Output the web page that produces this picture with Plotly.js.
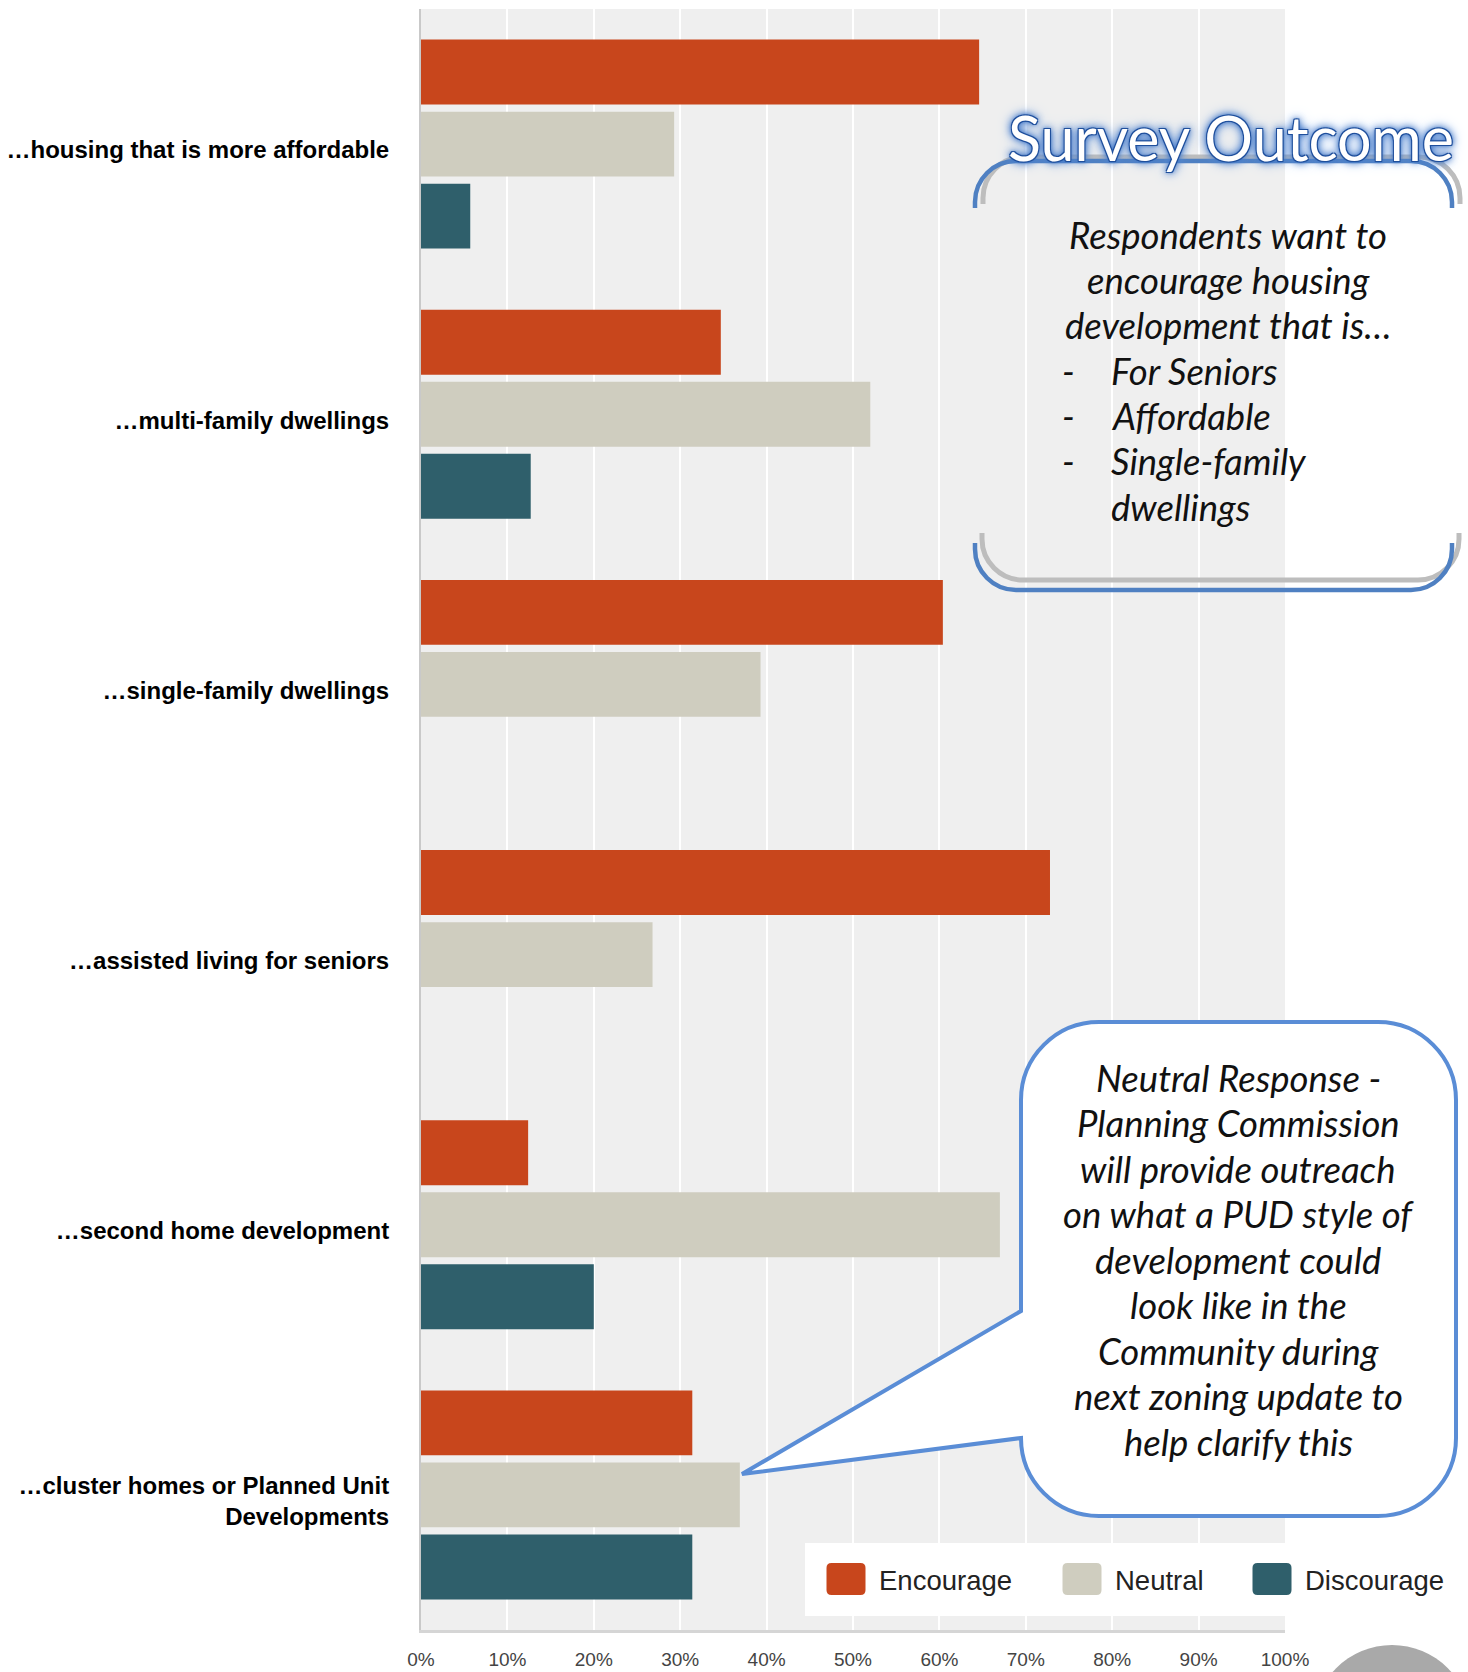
<!DOCTYPE html>
<html>
<head>
<meta charset="utf-8">
<script src="https://cdn.plot.ly/plotly-3.0.1.min.js"></script>
<style>
html,body{margin:0;padding:0;background:#ffffff;}
#chart{width:1468px;height:1672px;}
</style>
</head>
<body>
<div id="chart"></div>
<script>
// ---------------- data ----------------
const categories = [
  "…housing that is more affordable",
  "…multi-family dwellings",
  "…single-family dwellings",
  "…assisted living for seniors",
  "…second home development",
  "…cluster homes or Planned Unit<br>Developments"
];
const seriesNames = ["Encourage", "Neutral", "Discourage"];
const encourage  = [0.646, 0.347, 0.604, 0.728, 0.124, 0.314];
const neutral    = [0.293, 0.520, 0.393, 0.268, 0.670, 0.369];
const discourage = [0.057, 0.127, 0.000, 0.000, 0.200, 0.314];
const xTickVals = [0, 0.1, 0.2, 0.3, 0.4, 0.5, 0.6, 0.7, 0.8, 0.9, 1.0];
const xTickText = ["0%", "10%", "20%", "30%", "40%", "50%", "60%", "70%", "80%", "90%", "100%"];

const outcomeTitle = "Survey Outcome";
const outcomeIntro = ["Respondents want to", "encourage housing", "development that is…"];
const outcomeBullets = ["For Seniors", "Affordable", "Single-family", "dwellings"];
const neutralNote = [
  "Neutral Response -",
  "Planning Commission",
  "will provide outreach",
  "on what a PUD style of",
  "development could",
  "look like in the",
  "Community during",
  "next zoning update to",
  "help clarify this"
];

// ---------------- geometry helpers ----------------
const W = 1468, H = 1672;
const M = {l: 421, r: 183, t: 9, b: 42};
const PW = W - M.l - M.r, PH = H - M.t - M.b;
const px = x => (x - M.l) / PW;
const py = y => (H - M.b - y) / PH;
function path(cmds) {
  return cmds.map(c => {
    if (c[0] === 'Z') return 'Z';
    const pts = [];
    for (let i = 1; i < c.length; i += 2) pts.push(px(c[i]).toFixed(5) + ',' + py(c[i + 1]).toFixed(5));
    return c[0] + pts.join(' ');
  }).join(' ');
}

const colors = ["#c8461c", "#cfcdbf", "#2f5f6b"];
const blueLine = "#4f80c2";
const calloutBlue = "#5a8dd6";

// ---------------- traces ----------------
const values = [encourage, neutral, discourage];
const legendIds = ["legend", "legend2", "legend3"];
const traces = seriesNames.map((name, i) => ({
  type: "bar",
  orientation: "h",
  name: name,
  y: categories,
  x: values[i],
  marker: {color: colors[i], line: {width: 0}},
  legend: legendIds[i],
  hoverinfo: "skip"
}));

// ---------------- shapes ----------------
const k = 0.5523;
const shapes = [];
shapes.push({type: "rect", xref: "paper", yref: "paper", x0: px(805), x1: px(1468), y0: py(1616), y1: py(1543),
  fillcolor: "#ffffff", line: {width: 0}, layer: "above"});
shapes.push({type: "circle", xref: "paper", yref: "paper", x0: px(1313), x1: px(1471), y0: py(1803), y1: py(1645),
  fillcolor: "#a9a9a9", line: {width: 0}, layer: "above"});

function topBracket(dx, dy) {
  const L = 975 + dx, R = 1452 + dx, T = 161 + dy, r = 41, e = 208 + dy;
  return path([
    ['M', L, e], ['L', L, T + r],
    ['C', L, T + r - k * r, L + r - k * r, T, L + r, T],
    ['L', R - r, T],
    ['C', R - r + k * r, T, R, T + r - k * r, R, T + r],
    ['L', R, e]
  ]);
}
function bottomBracket(dx, dy) {
  const L = 975 + dx, R = 1452 + dx, B = 590 + dy, r = 41, s = 543 + dy;
  return path([
    ['M', L, s], ['L', L, B - r],
    ['C', L, B - r + k * r, L + r - k * r, B, L + r, B],
    ['L', R - r, B],
    ['C', R - r + k * r, B, R, B - r + k * r, R, B - r],
    ['L', R, s]
  ]);
}
shapes.push({type: "path", xref: "paper", yref: "paper", path: topBracket(8, -4), line: {color: "#bdbdbd", width: 5}, layer: "above"});
shapes.push({type: "path", xref: "paper", yref: "paper", path: bottomBracket(7, -10), line: {color: "#bdbdbd", width: 5}, layer: "above"});
shapes.push({type: "path", xref: "paper", yref: "paper", path: topBracket(0, 0), line: {color: blueLine, width: 4.5}, layer: "above"});
shapes.push({type: "path", xref: "paper", yref: "paper", path: bottomBracket(0, 0), line: {color: blueLine, width: 4.5}, layer: "above"});

(function () {
  const L = 1021, R = 1456, T = 1022, B = 1516, r = 78;
  const p = path([
    ['M', L, T + r],
    ['C', L, T + r - k * r, L + r - k * r, T, L + r, T],
    ['L', R - r, T],
    ['C', R - r + k * r, T, R, T + r - k * r, R, T + r],
    ['L', R, B - r],
    ['C', R, B - r + k * r, R - r + k * r, B, R - r, B],
    ['L', L + r, B],
    ['C', L + r - k * r, B, L, B - r + k * r, L, B - r],
    ['L', 742, 1474],
    ['L', L, 1311],
    ['Z']
  ]);
  shapes.push({type: "path", xref: "paper", yref: "paper", path: p, fillcolor: "#ffffff",
    line: {color: calloutBlue, width: 4}, layer: "above"});
})();

// ---------------- annotations ----------------
const noteFont = {family: "Lato, Carlito, Calibri, sans-serif", size: 36.5, color: "#111111", style: "italic"};
const ann = [];
function addText(text, x, yBase, anchor, font) {
  ann.push({xref: "paper", yref: "paper", x: px(x), y: py(yBase - 0.387 * font.size),
    xanchor: anchor, yanchor: "middle", text: text, showarrow: false, font: font});
}
addText(outcomeTitle, 1231, 161, "center", {
  family: "Lato, Carlito, Calibri, sans-serif", size: 61, color: "#ffffff",
  shadow: "1px 1px 0 #1f4f9c, -1px -1px 0 #1f4f9c, 1px -1px 0 #1f4f9c, -1px 1px 0 #1f4f9c, 0 0 3px #2d62b3, 0 0 7px #3f74c4, 0 0 9px #4f84d0, 0 0 14px #6f9ee0"
});
const introBase = [249, 294.3, 339.6];
outcomeIntro.forEach((t, i) => addText(t, 1228, introBase[i], "center", noteFont));
const bulletBase = [385, 430.2, 475.5, 520.8];
outcomeBullets.forEach((t, i) => {
  if (i < 3) addText("-", 1060, bulletBase[i], "left", noteFont);
  addText(t, 1109, bulletBase[i], "left", noteFont);
});
neutralNote.forEach((t, i) => addText(t, 1238, 1092 + 45.5 * i, "center", noteFont));

// ---------------- layout ----------------
const legendFont = {family: "Arial, 'Liberation Sans', sans-serif", size: 27.5, color: "#222222"};
const legendX = [813, 1049, 1239];
function mkLegend(i) {
  return {x: px(legendX[i]), xanchor: "left", y: py(1579), yanchor: "middle", orientation: "h",
    bgcolor: "rgba(0,0,0,0)", borderwidth: 0, font: legendFont, itemwidth: 56,
    itemclick: false, itemdoubleclick: false};
}

const layout = {
  width: W, height: H,
  margin: {l: M.l, r: M.r, t: M.t, b: M.b, autoexpand: false},
  paper_bgcolor: "#ffffff",
  plot_bgcolor: "#efefef",
  barmode: "group",
  bargap: 0.2,
  bargroupgap: 0.1,
  showlegend: true,
  legend: mkLegend(0),
  legend2: mkLegend(1),
  legend3: mkLegend(2),
  xaxis: {
    range: [0, 1], tickvals: xTickVals, ticktext: xTickText,
    showgrid: true, gridcolor: "#ffffff", gridwidth: 2, zeroline: false,
    showline: true, linecolor: "#d5d5d5", linewidth: 3,
    ticks: "", ticklabelstandoff: 10,
    tickfont: {family: "Arial, 'Liberation Sans', sans-serif", size: 19, color: "#444444"},
    fixedrange: true
  },
  yaxis: {
    autorange: "reversed", type: "category",
    showgrid: false, zeroline: false,
    showline: true, linecolor: "#c9c9c9", linewidth: 2,
    ticks: "", ticklabelstandoff: 25, ticklabelshift: -6,
    tickfont: {family: "Arial, 'Liberation Sans', sans-serif", size: 24, color: "#000000", weight: "bold"},
    fixedrange: true
  },
  shapes: shapes,
  annotations: ann
};

Plotly.newPlot("chart", traces, layout, {displayModeBar: false, staticPlot: true}).then(gd => {
  const rr = "M-14.5,-16H14.5Q19.5,-16 19.5,-11V11Q19.5,16 14.5,16H-14.5Q-19.5,16 -19.5,11V-11Q-19.5,-16 -14.5,-16Z";
  gd.querySelectorAll("g.legendpoints path").forEach(p => p.setAttribute("d", rr));
});
</script>
</body>
</html>
